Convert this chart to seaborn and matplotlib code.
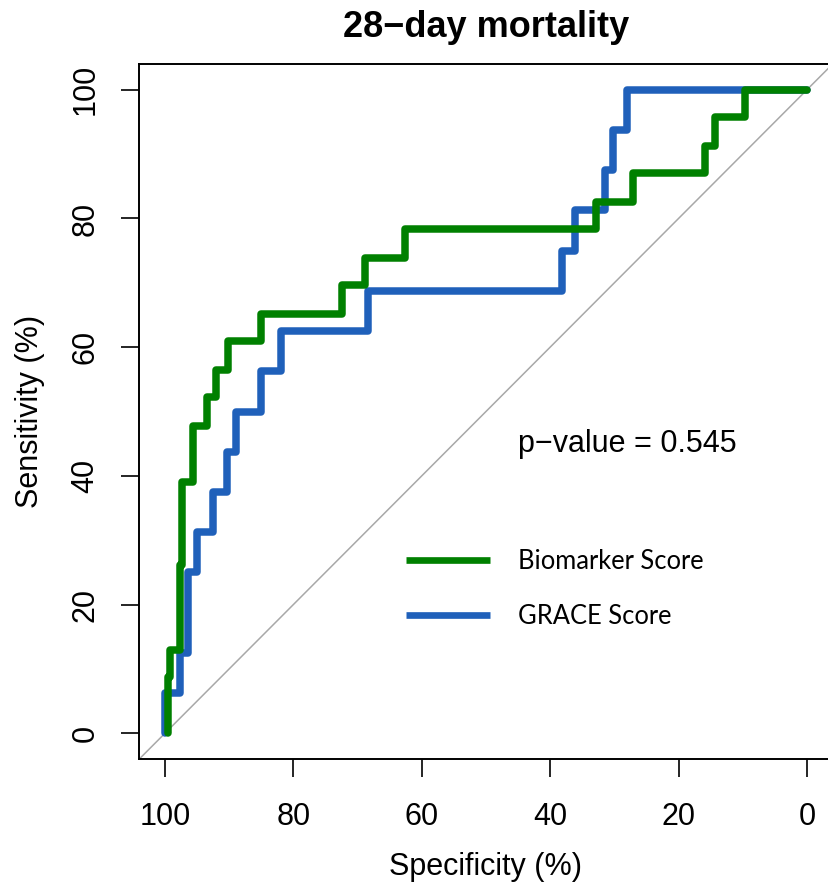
import numpy as np
import pandas as pd
import matplotlib
matplotlib.use("Agg")
import matplotlib.pyplot as plt
from matplotlib.lines import Line2D
import seaborn as sns

# ROC corner points (specificity %, sensitivity %)
bio_spec = [99.6, 99.6, 99.2, 99.2, 97.7, 97.7, 97.4, 97.4, 95.6, 95.6, 93.5, 93.5,
            92.0, 92.0, 90.2, 90.2, 85.0, 85.0, 72.5, 72.5, 68.9, 68.9, 62.6, 62.6,
            32.8, 32.8, 27.1, 27.1, 15.9, 15.9, 14.3, 14.3, 9.7, 9.7, 0.0]
bio_sens = [0.0, 8.7, 8.7, 13.0, 13.0, 26.1, 26.1, 39.1, 39.1, 47.8, 47.8, 52.2,
            52.2, 56.5, 56.5, 60.9, 60.9, 65.2, 65.2, 69.6, 69.6, 73.9, 73.9, 78.3,
            78.3, 82.6, 82.6, 87.0, 87.0, 91.3, 91.3, 95.7, 95.7, 100.0, 100.0]

grace_spec = [100.0, 100.0, 97.7, 97.7, 96.4, 96.4, 95.0, 95.0, 92.5, 92.5, 90.4, 90.4,
              88.9, 88.9, 85.0, 85.0, 81.9, 81.9, 68.4, 68.4, 38.2, 38.2, 36.2, 36.2,
              31.5, 31.5, 30.2, 30.2, 28.1, 28.1, 0.0]
grace_sens = [0.0, 6.25, 6.25, 12.5, 12.5, 25.0, 25.0, 31.25, 31.25, 37.5, 37.5, 43.75,
              43.75, 50.0, 50.0, 56.25, 56.25, 62.5, 62.5, 68.75, 68.75, 75.0, 75.0, 81.25,
              81.25, 87.5, 87.5, 93.75, 93.75, 100.0, 100.0]

labels = ["Biomarker Score", "GRACE Score"]
colors = ["#008000", "#1F60BA"]
ticks = [0, 20, 40, 60, 80, 100]
p_text = "p\u2212value = 0.545"

sns.set_theme(style="white")
plt.rcParams["font.family"] = ["Liberation Sans", "DejaVu Sans"]
plt.rcParams["text.color"] = "black"
plt.rcParams["axes.labelcolor"] = "black"

fig = plt.figure(figsize=(8.29, 8.89), dpi=100)
ax = fig.add_axes([0.168, 0.1462, 0.8364, 0.7818])

# chance line
ax.axline((100, 0), (0, 100), color="#A8A8A8", lw=1.1, zorder=1)

sns.lineplot(x=grace_spec, y=grace_sens, sort=False, estimator=None, ax=ax,
             color=colors[1], linewidth=5.4, solid_capstyle="round",
             solid_joinstyle="round", zorder=2)
sns.lineplot(x=bio_spec, y=bio_sens, sort=False, estimator=None, ax=ax,
             color=colors[0], linewidth=5.4, solid_capstyle="round",
             solid_joinstyle="round", zorder=3)

ax.set_xlim(104, -4)
ax.set_ylim(-4, 104)
ax.set_xticks(ticks)
ax.set_yticks(ticks)
ax.tick_params(axis="both", direction="out", length=13, width=1.2, colors="black",
               labelsize=22, bottom=True, left=True)
ax.tick_params(axis="x", pad=18)
ax.tick_params(axis="y", pad=15)
for lab in ax.get_yticklabels():
    lab.set_rotation(90)
    lab.set_va("center")

for sp in ax.spines.values():
    sp.set_visible(True)
    sp.set_color("black")
    sp.set_linewidth(1.4)

ax.set_xlabel("Specificity (%)", fontsize=22)
ax.set_ylabel("Sensitivity (%)", fontsize=22)
ax.xaxis.set_label_coords(0.5, (759 - 867) / 695)
ax.xaxis.label.set_va("center")
ax.yaxis.set_label_coords((30 - 139.3) / 693.4, 0.5)
ax.yaxis.label.set_va("center")

ax.set_title("28\u2212day mortality", fontsize=26, fontweight="bold", color="black",
             y=1 + (64 - 27) / 695, va="center", pad=0)

ax.text(45, 45, p_text, fontsize=22, ha="left", va="center", color="black")

handles = [Line2D([], [], color=c, lw=4.8, solid_capstyle="butt") for c in colors]
leg = ax.legend(handles, labels, loc="center left",
                bbox_to_anchor=((406 - 139.3) / 693.4, (759 - 589) / 695),
                frameon=False, borderpad=0, borderaxespad=0,
                handlelength=3.3, handletextpad=1.1, labelspacing=1.2,
                prop={"family": "Lato", "size": 18.4})
for t in leg.get_texts():
    t.set_color("black")

fig.savefig("out.png", dpi=100)
